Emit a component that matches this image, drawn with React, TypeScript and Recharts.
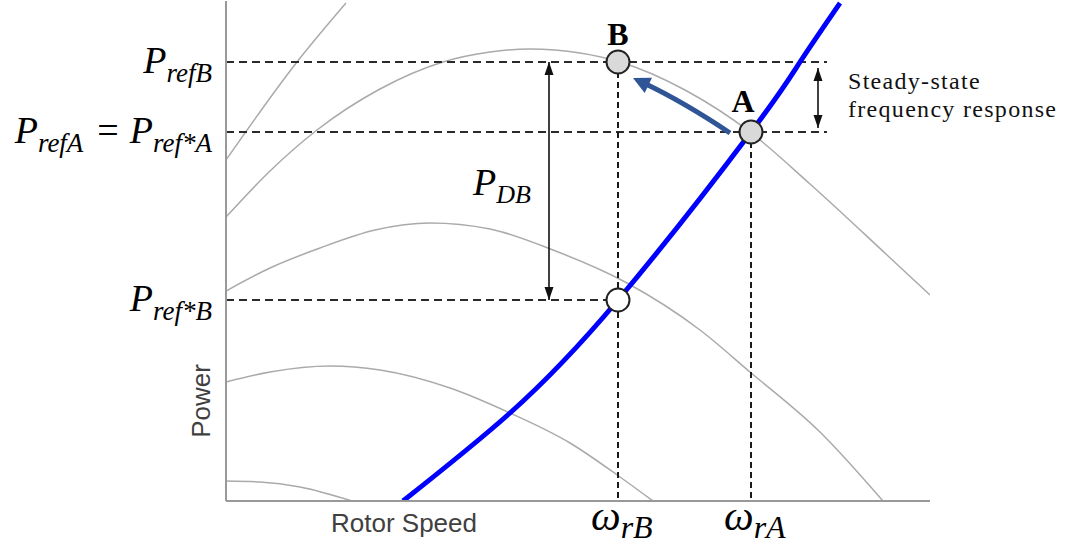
import { ComposedChart, Line, XAxis, YAxis, ReferenceLine, ReferenceDot } from 'recharts';

// x = rotor speed, y = power (arbitrary units)
// gray turbine power curves, one per wind speed
const curve1 = [
  { x: 0, y: 3.41 }, { x: 0.71, y: 4.39 }, { x: 1.2, y: 4.98 },
];
const curve2 = [
  { x: 0, y: 2.84 }, { x: 0.44, y: 3.3 }, { x: 0.91, y: 3.71 }, { x: 1.54, y: 4.12 },
  { x: 2.17, y: 4.39 }, { x: 2.64, y: 4.49 }, { x: 3.04, y: 4.52 }, { x: 3.54, y: 4.48 },
  { x: 3.94, y: 4.39 }, { x: 4.59, y: 4.11 }, { x: 5.24, y: 3.69 }, { x: 5.84, y: 3.17 },
  { x: 6.61, y: 2.46 }, { x: 7.04, y: 2.06 },
];
const curve3 = [
  { x: 0, y: 2.1 }, { x: 0.44, y: 2.33 }, { x: 0.94, y: 2.53 }, { x: 1.49, y: 2.71 },
  { x: 2.04, y: 2.78 }, { x: 2.64, y: 2.72 }, { x: 3.27, y: 2.51 }, { x: 4.01, y: 2.18 },
  { x: 4.74, y: 1.71 }, { x: 5.24, y: 1.29 }, { x: 5.94, y: 0.69 }, { x: 6.57, y: 0 },
];
const curve4 = [
  { x: 0, y: 1.19 }, { x: 0.44, y: 1.29 }, { x: 1.04, y: 1.35 }, { x: 1.54, y: 1.31 },
  { x: 2.24, y: 1.13 }, { x: 2.84, y: 0.88 }, { x: 3.44, y: 0.58 }, { x: 3.94, y: 0.24 },
  { x: 4.27, y: 0 },
];
const curve5 = [
  { x: 0, y: 0.2 }, { x: 0.34, y: 0.19 }, { x: 0.74, y: 0.14 }, { x: 1.26, y: 0 },
];
// MPPT curve (blue)
const mpptCurve = [
  { x: 1.77, y: 0 }, { x: 2.84, y: 0.88 }, { x: 3.92, y: 2.01 }, { x: 5.25, y: 3.69 },
  { x: 5.74, y: 4.39 }, { x: 6.14, y: 4.98 },
];

const grayCurves = [curve1, curve2, curve3, curve4, curve5];

const speedB = 3.92;
const speedA = 5.25;
const pRefB = 4.39;
const pRefA = 3.69;
const pRefStarB = 2.01;
const dashEnd = 6.01;

const xTickValues = [1.78, speedB, speedA];
const xTickLabels = ['Rotor Speed', 'ω_rB', 'ω_rA'];
const yTickValues = [1.0, pRefStarB, pRefA, pRefB];
const yTickLabels = ['Power', 'P_ref*B', 'P_refA = P_ref*A', 'P_refB'];

const SERIF = 'Liberation Serif, Times New Roman, serif';
const SANS = 'Liberation Sans, Arial, sans-serif';

function headPoints(x: number, y: number, ang: number, len: number, w: number) {
  const bx = x - len * Math.cos(ang);
  const by = y - len * Math.sin(ang);
  const px = (-Math.sin(ang) * w) / 2;
  const py = (Math.cos(ang) * w) / 2;
  return `${x},${y} ${bx + px},${by + py} ${bx - px},${by - py}`;
}

// straight double headed arrow
const doubleArrow = (p: any) => {
  const { x1, y1, x2, y2 } = p;
  const ang = Math.atan2(y2 - y1, x2 - x1);
  return (
    <g>
      <line x1={x1} y1={y1} x2={x2} y2={y2} stroke="#111" strokeWidth={1.6} />
      <polygon points={headPoints(x2, y2, ang, 13, 9)} fill="#111" />
      <polygon points={headPoints(x1, y1, ang + Math.PI, 13, 9)} fill="#111" />
    </g>
  );
};

// slightly bent thick arrow from A towards B
const bentArrow = (p: any) => {
  const { x1, y1, x2, y2 } = p;
  const dx = x2 - x1;
  const dy = y2 - y1;
  const n = Math.hypot(dx, dy);
  const cx = (x1 + x2) / 2 + (-dy / n) * 4;
  const cy = (y1 + y2) / 2 + (dx / n) * 4;
  const ang = Math.atan2(y2 - cy, x2 - cx);
  const len = 17;
  const ex = x2 - len * 0.8 * Math.cos(ang);
  const ey = y2 - len * 0.8 * Math.sin(ang);
  return (
    <g>
      <path d={`M${x1},${y1} Q${cx},${cy} ${ex},${ey}`} fill="none" stroke="#2F5597" strokeWidth={5} />
      <polygon points={headPoints(x2, y2, ang, len, 17)} fill="#2F5597" />
    </g>
  );
};

function PLabel({ x, y, text }: { x: number; y: number; text: string }) {
  const terms = text.split(' = ');
  return (
    <text x={x} y={y} textAnchor="end" fontFamily={SERIF} fontSize={38} fontStyle="italic" fill="#000">
      {terms.map((t, i) => {
        const [main, sub] = t.split('_');
        return [
          i > 0 ? (
            <tspan key={`e${i}`} dx={14} dy={-9} fontStyle="normal">=</tspan>
          ) : null,
          <tspan key={`m${i}`} dx={i > 0 ? 11 : 0}>{main}</tspan>,
          <tspan key={`s${i}`} fontSize={27} dy={9}>{sub}</tspan>,
        ];
      })}
    </text>
  );
}

function YTick(props: any) {
  const { x, y, payload } = props;
  const label = yTickLabels[yTickValues.indexOf(payload.value)];
  if (!label) return null;
  if (label.indexOf('_') < 0) {
    const bx = x - 16;
    return (
      <text x={bx} y={y} transform={`rotate(-90 ${bx} ${y})`} textAnchor="middle" fontFamily={SANS} fontSize={26} fill="#404040">
        {label}
      </text>
    );
  }
  return <PLabel x={x - 14} y={y + 11} text={label} />;
}

function XTick(props: any) {
  const { x, y, payload } = props;
  const label = xTickLabels[xTickValues.indexOf(payload.value)];
  if (!label) return null;
  if (label.indexOf('_') < 0) {
    return (
      <text x={x} y={y + 31} textAnchor="middle" fontFamily={SANS} fontSize={26} fill="#404040">
        {label}
      </text>
    );
  }
  const [main, sub] = label.split('_');
  return (
    <text x={x - 27} y={y + 29} textAnchor="start" fontFamily={SERIF} fontSize={42} fontStyle="italic" fill="#000">
      <tspan>{main}</tspan>
      <tspan fontSize={32} dy={8}>{sub}</tspan>
    </text>
  );
}

const textAt = (content: (cx: number, cy: number) => any) => (p: any) => content(p.cx, p.cy);

export default function App() {
  return (
    <div style={{ position: 'absolute', left: 0, top: 0, background: '#fff' }}>
      <ComposedChart width={1070} height={547} margin={{ top: 1, right: 140, bottom: 45, left: 225 }}>
        <XAxis
          type="number"
          dataKey="x"
          domain={[0, 7.04]}
          allowDataOverflow
          ticks={xTickValues}
          interval={0}
          height={1}
          tickSize={0}
          tickMargin={0}
          tickLine={false}
          tick={<XTick />}
          axisLine={{ stroke: '#999', strokeWidth: 2 }}
        />
        <YAxis
          type="number"
          dataKey="y"
          domain={[0, 5]}
          allowDataOverflow
          ticks={yTickValues}
          interval={0}
          width={1}
          tickSize={0}
          tickMargin={0}
          tickLine={false}
          tick={<YTick />}
          axisLine={{ stroke: '#999', strokeWidth: 2 }}
        />
        {grayCurves.map((c, i) => (
          <Line
            key={`c${i}`}
            data={c}
            dataKey="y"
            type="monotone"
            stroke="#aaa"
            strokeWidth={1.5}
            dot={false}
            activeDot={false}
            isAnimationActive={false}
          />
        ))}

        <ReferenceLine segment={[{ x: 0, y: pRefB }, { x: dashEnd, y: pRefB }]} stroke="#2a2a2a" strokeWidth={2} strokeDasharray="8 5" />
        <ReferenceLine segment={[{ x: 0, y: pRefA }, { x: dashEnd, y: pRefA }]} stroke="#2a2a2a" strokeWidth={2} strokeDasharray="8 5" />
        <ReferenceLine segment={[{ x: 0, y: pRefStarB }, { x: speedB, y: pRefStarB }]} stroke="#2a2a2a" strokeWidth={2} strokeDasharray="8 5" />
        <ReferenceLine segment={[{ x: speedB, y: pRefB }, { x: speedB, y: 0 }]} stroke="#1a1a1a" strokeWidth={2} strokeDasharray="6 4" />
        <ReferenceLine segment={[{ x: speedA, y: pRefA }, { x: speedA, y: 0 }]} stroke="#1a1a1a" strokeWidth={2} strokeDasharray="6 4" />

        <Line
          data={mpptCurve}
          dataKey="y"
          type="natural"
          stroke="#0000ff"
          strokeWidth={5}
          dot={false}
          activeDot={false}
          isAnimationActive={false}
        />

        <ReferenceLine segment={[{ x: 3.23, y: pRefB }, { x: 3.23, y: pRefStarB }]} shape={doubleArrow} />
        <ReferenceLine segment={[{ x: 5.92, y: 4.33 }, { x: 5.92, y: 3.73 }]} shape={doubleArrow} />
        <ReferenceLine segment={[{ x: 5.04, y: 3.68 }, { x: 4.07, y: 4.23 }]} shape={bentArrow} />

        <ReferenceDot x={speedB} y={pRefB} r={11.5} fill="#d9d9d9" stroke="#222" strokeWidth={2} />
        <ReferenceDot x={speedA} y={pRefA} r={11.5} fill="#d9d9d9" stroke="#222" strokeWidth={2} />
        <ReferenceDot x={speedB} y={pRefStarB} r={11.5} fill="#fff" stroke="#222" strokeWidth={2} />

        <ReferenceDot
          x={speedB}
          y={4.56}
          shape={textAt((cx, cy) => (
            <text x={cx} y={cy} textAnchor="middle" fontFamily={SERIF} fontSize={32} fontWeight="bold" fill="#000">B</text>
          ))}
        />
        <ReferenceDot
          x={5.17}
          y={3.89}
          shape={textAt((cx, cy) => (
            <text x={cx} y={cy} textAnchor="middle" fontFamily={SERIF} fontSize={32} fontWeight="bold" fill="#000">A</text>
          ))}
        />
        <ReferenceDot
          x={2.47}
          y={3.06}
          shape={textAt((cx, cy) => (
            <text x={cx} y={cy} fontFamily={SERIF} fontSize={38} fontStyle="italic" fill="#000">
              <tspan>P</tspan>
              <tspan fontSize={26} dy={8}>DB</tspan>
            </text>
          ))}
        />
        <ReferenceDot
          x={6.22}
          y={4.12}
          shape={textAt((cx, cy) => (
            <text fontFamily={SERIF} fontSize={24} letterSpacing={1.3} fill="#111">
              <tspan x={cx} y={cy}>Steady-state</tspan>
              <tspan x={cx} y={cy + 28}>frequency response</tspan>
            </text>
          ))}
        />
      </ComposedChart>
    </div>
  );
}
